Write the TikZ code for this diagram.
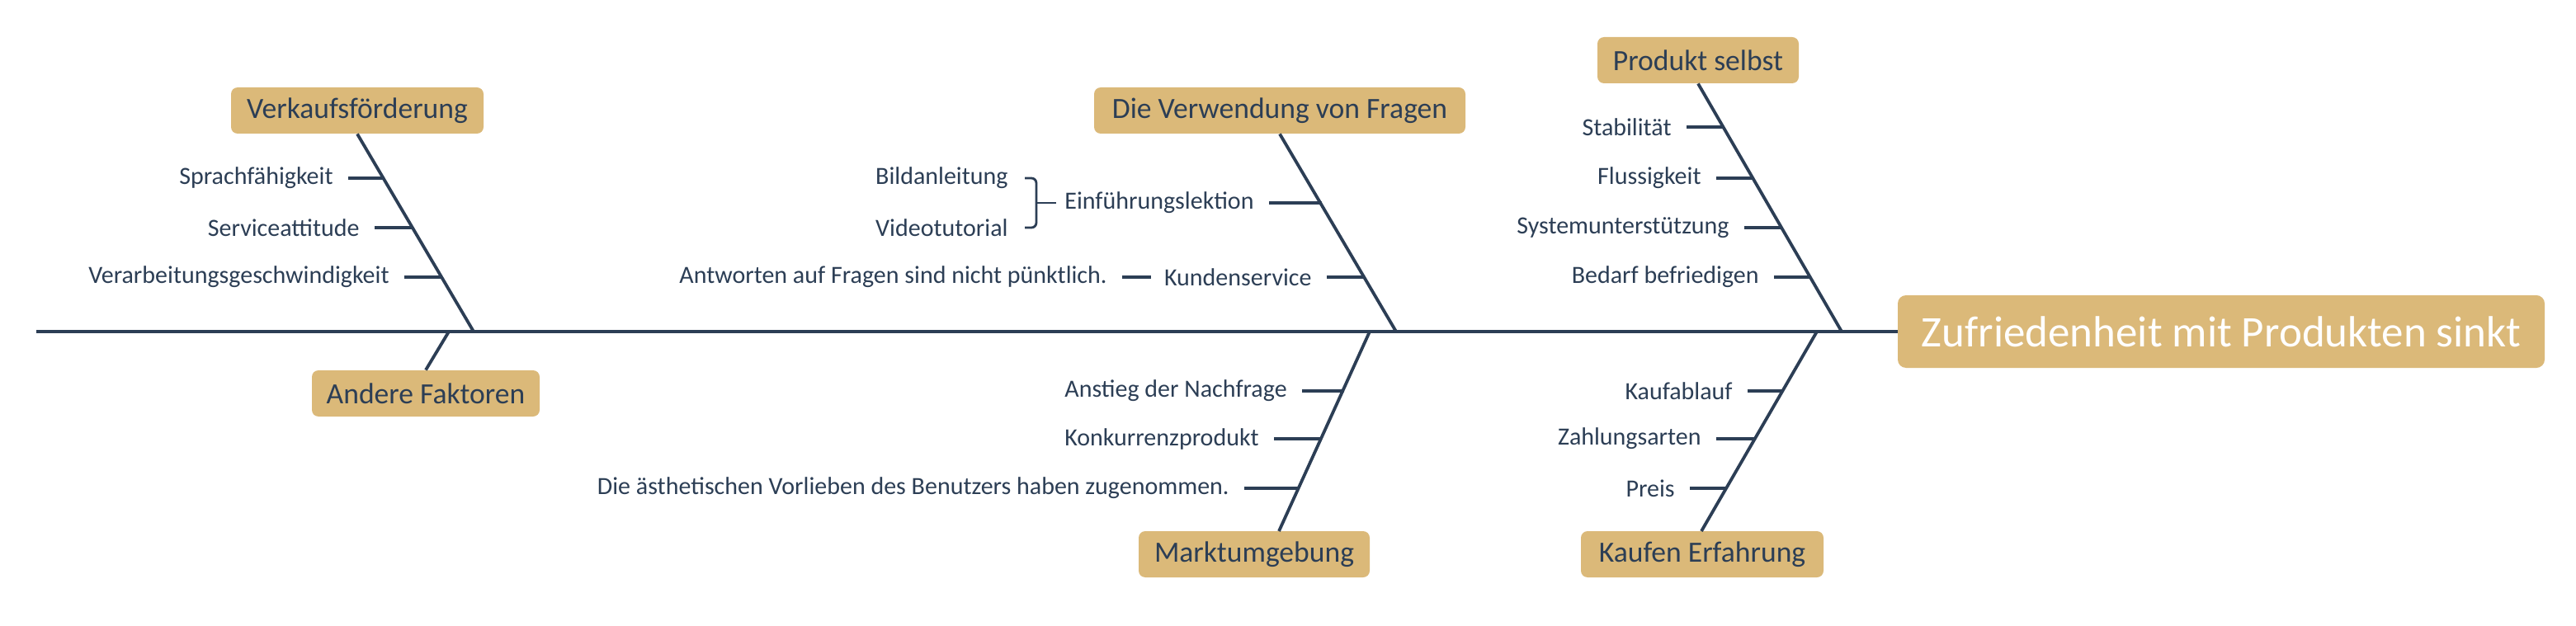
\documentclass[tikz,border=0pt]{standalone}
\usepackage{fontspec}
\setmainfont{Carlito}
\definecolor{ink}{HTML}{2C3E55}
\definecolor{gold}{HTML}{DBB979}
\begin{document}
\begin{tikzpicture}[x=1pt,y=-1pt,
  box/.style={fill=gold,rounded corners=4pt,text=ink,font=\fontsize{17.8}{20}\selectfont,inner sep=0pt},
  lab/.style={text=ink,font=\fontsize{15}{17}\selectfont,inner sep=0pt,anchor=east},
  bone/.style={draw=ink,line width=1.9pt},
  tick/.style={draw=ink,line width=1.7pt}]
\useasboundingbox (0,0) rectangle (1561,379.5);
% spine and head
\node[fill=gold,rounded corners=5pt,text=white,font=\fontsize{26.5}{30}\selectfont,minimum width=392pt,minimum height=44pt,inner sep=0pt] (head) at (1346,201) {Zufriedenheit mit Produkten sinkt};
\coordinate (tail) at (22,201);
\draw[bone] (tail) -- (head.west);
% Verkaufsfoerderung
\node[box,minimum width=153pt,minimum height=28pt] (vk) at (216.5,67) {Verkaufsförderung};
\coordinate (vkb) at (287,201);
\draw[bone] (vk.south) -- (vkb);
\node[lab] (v1) at (202,108) {Sprachfähigkeit};
\node[lab] (v2) at (218,138) {Serviceattitude};
\node[lab] (v3) at (236,168) {Verarbeitungsgeschwindigkeit};
\coordinate (v1e) at (233,108); \coordinate (v2e) at (250.5,138); \coordinate (v3e) at (268,168);
\draw[tick] ([xshift=9pt]v1.east) -- (v1e);
\draw[tick] ([xshift=9pt]v2.east) -- (v2e);
\draw[tick] ([xshift=9pt]v3.east) -- (v3e);
% Andere Faktoren
\node[box,minimum width=138pt,minimum height=28pt] (af) at (258,238.5) {Andere Faktoren};
\coordinate (afb) at (272,201);
\draw[bone] (afb) -- (af.north);
% Die Verwendung von Fragen
\node[box,minimum width=225pt,minimum height=28pt] (dv) at (775.5,67) {Die Verwendung von Fragen};
\coordinate (dvb) at (846,201);
\draw[bone] (dv.south) -- (dvb);
\node[lab] (ef) at (760,123) {Einführungslektion};
\coordinate (efe) at (801,123);
\draw[tick] ([xshift=9pt]ef.east) -- (efe);
\node[lab] (ks) at (795,168) {Kundenservice};
\coordinate (kse) at (827,168);
\draw[tick] ([xshift=9pt]ks.east) -- (kse);
\node[lab] (aw) at (671,168) {Antworten auf Fragen sind nicht pünktlich.};
\draw[tick] ([xshift=9pt]aw.east) -- ([xshift=-8pt]ks.west);
\node[lab] (bl) at (611,108) {Bildanleitung};
\node[lab] (vt) at (611,138) {Videotutorial};
\draw[draw=ink,line width=1.4pt,rounded corners=3pt] ([xshift=10pt]bl.east) -- ([xshift=17pt]bl.east) -- ([xshift=17pt]vt.east) -- ([xshift=10pt]vt.east);
\draw[draw=ink,line width=1.4pt] ([xshift=17pt]bl.east |- ef.west) -- ([xshift=-5pt]ef.west);
% Marktumgebung
\node[box,minimum width=140pt,minimum height=28pt] (mu) at (760,336) {Marktumgebung};
\coordinate (mub) at (830,201);
\draw[bone] (mub) -- (775,322);
\node[lab] (m1) at (780,237) {Anstieg der Nachfrage};
\node[lab] (m2) at (763,266) {Konkurrenzprodukt};
\node[lab] (m3) at (745,296) {Die ästhetischen Vorlieben des Benutzers haben zugenommen.};
\coordinate (m1e) at (814.5,237); \coordinate (m2e) at (801,266); \coordinate (m3e) at (787,296);
\draw[tick] ([xshift=9pt]m1.east) -- (m1e);
\draw[tick] ([xshift=9pt]m2.east) -- (m2e);
\draw[tick] ([xshift=9pt]m3.east) -- (m3e);
% Produkt selbst
\node[box,minimum width=122pt,minimum height=28pt] (ps) at (1029,36.5) {Produkt selbst};
\coordinate (psb) at (1116,201);
\draw[bone] (ps.south) -- (psb);
\node[lab] (p1) at (1013,77) {Stabilität};
\node[lab] (p2) at (1031,108) {Flussigkeit};
\node[lab] (p3) at (1048,138) {Systemunterstützung};
\node[lab] (p4) at (1066,168) {Bedarf befriedigen};
\coordinate (p1e) at (1044.5,77); \coordinate (p2e) at (1062,108); \coordinate (p3e) at (1079.5,138); \coordinate (p4e) at (1097,168);
\draw[tick] ([xshift=9pt]p1.east) -- (p1e);
\draw[tick] ([xshift=9pt]p2.east) -- (p2e);
\draw[tick] ([xshift=9pt]p3.east) -- (p3e);
\draw[tick] ([xshift=9pt]p4.east) -- (p4e);
% Kaufen Erfahrung
\node[box,minimum width=147pt,minimum height=28pt] (ke) at (1031.5,336) {Kaufen Erfahrung};
\coordinate (keb) at (1101,201);
\draw[bone] (keb) -- (1031,322);
\node[lab] (k1) at (1050,237) {Kaufablauf};
\node[lab] (k2) at (1031,266) {Zahlungsarten};
\node[lab] (k3) at (1015,296) {Preis};
\coordinate (k1e) at (1080,237); \coordinate (k2e) at (1063,266); \coordinate (k3e) at (1046,296);
\draw[tick] ([xshift=9pt]k1.east) -- (k1e);
\draw[tick] ([xshift=9pt]k2.east) -- (k2e);
\draw[tick] ([xshift=9pt]k3.east) -- (k3e);
\end{tikzpicture}
\end{document}
